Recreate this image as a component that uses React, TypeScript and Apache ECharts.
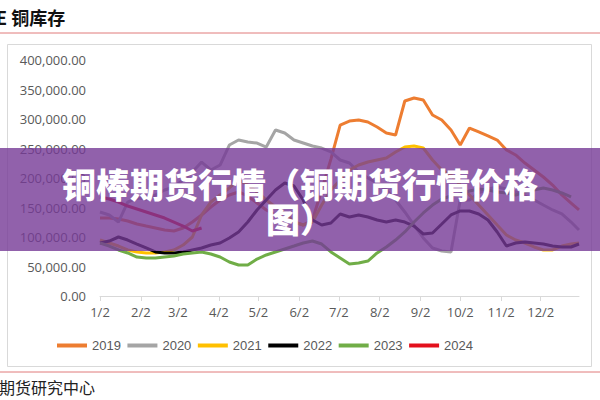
import React, { useEffect, useRef } from "react";
import * as echarts from "echarts";

// Day offsets from Jan 2 (weekly samples)
const DAYS = [0,7,14,21,28,35,42,49,56,63,70,77,84,91,98,105,112,119,126,133,140,147,154,161,168,175,182,189,196,203,210,217,224,231,238,245,252,259,266,273,280,287,294,301,308,315,322,329,336,343,350,357,363];
const TICK_DAYS = [0,31,59,90,120,151,181,212,243,273,304,334];
const TICK_LABELS = ["1/2","2/2","3/2","4/2","5/2","6/2","7/2","8/2","9/2","10/2","11/2","12/2"];
const YEARS = ["2019","2020","2021","2022","2023","2024"];
const COLORS = ["#ED7D31","#A5A5A5","#FFC000","#000000","#70AD47","#E3101C"];

const S2019 = [132200,132200,130500,127100,122000,118600,115300,111900,110200,115300,125400,137300,150800,162700,171200,176300,169500,157600,145800,137300,132200,125400,120300,128800,179700,232000,289800,296600,298300,294900,286400,276300,272900,330500,335600,332200,306800,298300,281400,255900,284700,278000,271200,264400,247500,239000,225400,213600,201700,188100,171200,157600,145800];
const S2020 = [142400,137300,125400,159300,166100,164400,171200,179700,184700,196600,210200,227100,213600,222000,255900,264400,261000,259300,252500,281400,276300,264400,259300,254200,250800,244100,230500,225400,210200,200000,191500,179700,162700,142400,120300,98300,81400,76300,74600,162700,162700,174600,181400,184700,181400,176300,169500,162700,154200,145800,139000,125400,111900];
const S2021 = [94900,89800,84700,78000,74600,72900,72900,74600,78000,86400,100000,137300,159300,171200,183100,196600,188100,176300,162700,150800,140700,125400,120300,125400,154200,179700,196600,213600,222000,227100,230500,233900,244100,252500,254200,250800,230500,213600,205100,188100,171200,154200,137300,120300,103400,94900,89800,83100,78000,78000,84700,88100,89800];
const S2022 = [89800,93200,100000,94900,88100,81400,74600,72900,72900,74600,78000,81400,86400,89800,98300,108500,125400,145800,162700,179700,191500,186400,162700,128800,120300,123700,139000,133900,137300,133900,128800,125400,128800,125400,118600,105100,106800,122000,137300,144100,144100,139000,128800,108500,84700,89800,91500,89800,88100,84700,83100,83100,88100];
const S2023 = [89800,84700,78000,72900,66100,64400,64400,66100,67800,71200,72900,74600,71200,66100,57600,52500,52500,62700,69500,74600,79700,84700,89800,93200,88100,74600,64400,54200,55900,59300,72900,83100,94900,108500,125400,140700,154200,164400,169500,172900,178000,181400,179700,176300,174600,171200,176300,179700,183100,179700,174600,167800,null];
const S2024 = [167800,164400,159300,152500,147500,142400,137300,132200,125400,118600,110200,115300];

const SERIES = [S2019, S2020, S2021, S2022, S2023, S2024];

export default function App() {
  const ref = useRef<HTMLDivElement>(null);
  useEffect(() => {
    const chart = echarts.init(ref.current!, null, { renderer: "svg" });
    const labelFont = "'Open Sans', 'Noto Sans', sans-serif";
    chart.setOption({
      animation: false,
      backgroundColor: "#ffffff",
      grid: { left: 100, right: 21, top: 60, bottom: 104, containLabel: false },
      xAxis: {
        type: "value",
        min: 0,
        max: 363,
        axisLine: { show: true, lineStyle: { color: "#D9D9D9", width: 1 } },
        axisTick: { show: true, customValues: TICK_DAYS, length: 5, lineStyle: { color: "#D9D9D9" } },
        axisLabel: {
          customValues: TICK_DAYS,
          formatter: (v: number) => TICK_LABELS[TICK_DAYS.indexOf(v)] ?? "",
          color: "#595959",
          fontSize: 13,
          fontFamily: labelFont,
          margin: 9,
        },
        splitLine: { show: false },
      },
      yAxis: {
        type: "value",
        min: 0,
        max: 400000,
        interval: 50000,
        axisLine: { show: false },
        axisTick: { show: false },
        splitLine: { show: false },
        axisLabel: {
          formatter: (v: number) => v.toLocaleString("en-US", { minimumFractionDigits: 2, maximumFractionDigits: 2 }),
          color: "#595959",
          fontSize: 13,
          fontFamily: labelFont,
          margin: 14,
        },
      },
      legend: {
        data: YEARS,
        left: 52,
        top: 334,
        icon: "rect",
        itemWidth: 30,
        itemHeight: 4,
        itemGap: 6.5,
        textStyle: { color: "#595959", fontSize: 13, fontFamily: "'Liberation Sans', sans-serif" },
      },
      series: SERIES.map((vals, si) => ({
        name: YEARS[si],
        type: "line",
        symbol: "none",
        color: COLORS[si],
        lineStyle: { width: 3, color: COLORS[si] },
        data: vals.map((v, i) => (v == null ? null : [DAYS[i], v])).filter((p) => p != null),
        z: 2 + si,
      })),
      graphic: [
        { type: "text", left: -4, top: 8, style: { text: "E 铜库存", fontSize: 18, fontWeight: "bold", fill: "#111", fontFamily: "'Noto Sans CJK SC', sans-serif" } },
        { type: "line", shape: { x1: 0, y1: 33, x2: 600, y2: 33 }, style: { stroke: "#E07A7A", lineWidth: 1 } },
        { type: "rect", shape: { x: 7.5, y: 44.5, width: 584, height: 322 }, style: { fill: "none", stroke: "#D9D9D9", lineWidth: 1 } },
        { type: "line", shape: { x1: 0, y1: 372, x2: 600, y2: 372 }, style: { stroke: "#E07A7A", lineWidth: 1 } },
        { type: "text", left: -1, top: 379, style: { text: "期货研究中心", fontSize: 16, fill: "#222", fontFamily: "'Noto Sans CJK SC', sans-serif" } },
        { type: "rect", z: 100, shape: { x: 0, y: 148, width: 600, height: 103 }, style: { fill: "rgba(118, 58, 150, 0.8)" } },
        { type: "text", z: 101, x: 300, y: 183, style: { text: "铜棒期货行情（铜期货行情价格", fontSize: 34, fontWeight: 900, fill: "#ffffff", align: "center", verticalAlign: "middle", fontFamily: "'Noto Sans CJK SC', sans-serif" } },
        { type: "text", z: 101, x: 300, y: 218, style: { text: "图）", fontSize: 34, fontWeight: 900, fill: "#ffffff", align: "center", verticalAlign: "middle", fontFamily: "'Noto Sans CJK SC', sans-serif" } },
      ],
    });
    return () => chart.dispose();
  }, []);
  return <div ref={ref} style={{ position: "fixed", left: 0, top: 0, width: 600, height: 400, background: "#fff" }} />;
}
